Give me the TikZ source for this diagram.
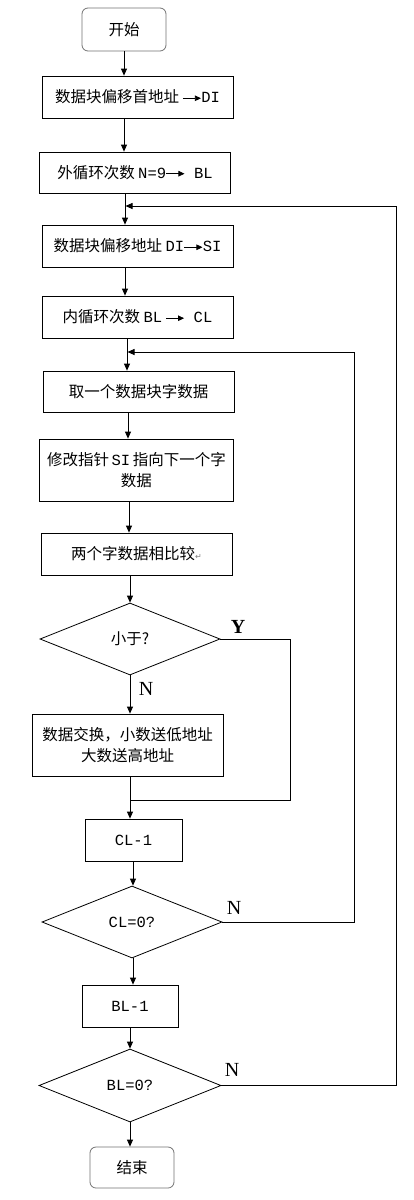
\documentclass[tikz,border=0pt]{standalone}
\usepackage{fontspec}
\newfontfamily\cjk{Noto Sans CJK SC}
\newfontfamily\lat{Liberation Mono}
\newfontfamily\ser{Liberation Serif}
\newfontfamily\dv{DejaVu Sans}
\usetikzlibrary{shapes.geometric,arrows.meta}
\newcommand\myarr{\tikz[baseline=-0.55ex]\draw[line width=0.7pt,-{Triangle[length=6pt,width=5.5pt]}] (0pt,0pt) -- (18pt,0pt);}
\newcommand\retmark{{\dv\color{gray}\fontsize{8}{8}\selectfont ↵}}
\begin{document}
\begin{tikzpicture}[x=1pt,y=-1pt,
  box/.style={draw, line width=0.8pt, inner sep=2pt, align=center,
    font=\cjk\fontsize{15.5}{21}\selectfont, minimum width=191pt, minimum height=42pt},
  term/.style={box, draw=black!55, rounded corners=6pt, minimum width=84pt},
  dec/.style={draw, line width=0.8pt, diamond, aspect=2.5, inner sep=0pt,
    minimum width=180pt, minimum height=72pt, font=\cjk\fontsize{15.5}{21}\selectfont},
  arr/.style={line width=0.8pt, -{Triangle[length=7pt,width=6pt]}},
  ln/.style={line width=0.8pt},
  lbl/.style={font=\ser\fontsize{20}{20}\selectfont, inner sep=0pt}]
\useasboundingbox (0,0) rectangle (414,1200);
\fill[white] (0,0) rectangle (414,1200);

\node[term, minimum height=43pt] (st) at (124,29.5) {开始};
\node[box] (b1) at (137.5,97) {数据块偏移首地址 \myarr{\lat DI}};
\node[box, minimum height=41pt] (b2) at (135,172.5) {外循环次数 {\lat N=9}\myarr{\lat\ BL}};
\node[box] (b3) at (137.5,246) {数据块偏移地址 {\lat DI}\myarr{\lat SI}};
\node[box] (b4) at (137.5,317) {内循环次数 {\lat BL} \myarr{\lat\ CL}};
\node[box, minimum height=41pt] (b5) at (138.5,391.5) {取一个数据块字数据};
\node[box, minimum height=62pt, text width=190pt] (b6) at (136.5,470) {修改指针\,{\lat SI}\,指向下一个字\\数据};
\node[box] (b7) at (136.5,554) {两个字数据相比较\retmark};
\node[dec] (d1) at (130,639) {小于?};
\node[box, minimum height=62pt] (b8) at (127.5,745) {数据交换，小数送低地址\\大数送高地址};
\node[box, minimum width=97pt] (b9) at (133.5,840) {\lat CL-1};
\node[dec] (d2) at (132,922) {\lat CL=0?};
\node[box, minimum width=96pt] (b10) at (130,1006) {\lat BL-1};
\node[dec, minimum width=182pt, minimum height=73pt] (d3) at (130,1085.5) {\lat BL=0?};
\node[term, minimum height=41pt] (en) at (132,1167.5) {结束};

\node[lbl, font=\ser\bfseries\fontsize{20}{20}\selectfont] (ly) at (238,627) {Y};
\node[lbl] (ln1) at (146,689) {N};
\node[lbl] (ln2) at (234,908) {N};
\node[lbl] (ln3) at (232,1070) {N};

\coordinate (j1) at (125.5,206);
\coordinate (j2) at (127.5,352);
\coordinate (j3) at (130,800);

\draw[arr] (124,0 |- st.south) -- (124,0 |- b1.north);
\draw[arr] (124,0 |- b1.south) -- (124,0 |- b2.north);
\draw[arr] (125,0 |- b2.south) -- (125,0 |- b3.north);
\draw[arr] (125,0 |- b3.south) -- (125,0 |- b4.north);
\draw[arr] (127,0 |- b4.south) -- (127,0 |- b5.north);
\draw[arr] (128,0 |- b5.south) -- (128,0 |- b6.north);
\draw[arr] (129,0 |- b6.south) -- (129,0 |- b7.north);
\draw[arr] (130,0 |- b7.south) -- (d1.north);
\draw[arr] (d1.south) -- (130,0 |- b8.north);
\draw[arr] (130,0 |- b8.south) -- (130,0 |- b9.north);
\draw[arr] (133,0 |- b9.south) -- (133,0 |- d2.north);
\draw[arr] (133,0 |- d2.south) -- (133,0 |- b10.north);
\draw[arr] (130,0 |- b10.south) -- (d3.north);
\draw[arr] (d3.south) -- (130,0 |- en.north);

\draw[ln] (d1.east) -- (290,0 |- d1.east) -- (290,800) -- (j3);
\draw[arr] (d2.east) -- (354,0 |- d2.east) -- (354,352) -- (j2);
\draw[arr] (d3.east) -- (396,0 |- d3.east) -- (396,206) -- (j1);
\end{tikzpicture}
\end{document}
